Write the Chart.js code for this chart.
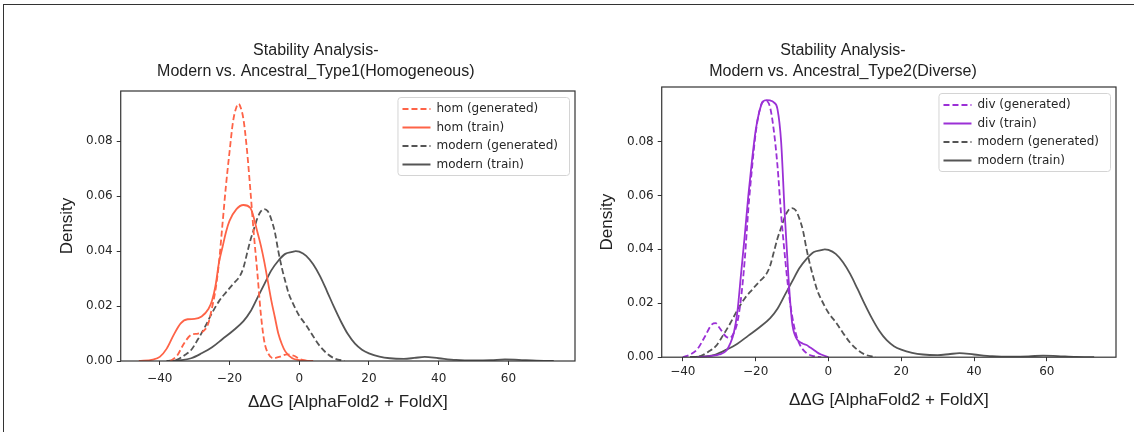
<!DOCTYPE html>
<html>
<head>
<meta charset="utf-8">
<script src="https://cdn.jsdelivr.net/npm/chart.js"></script>
<style>
  html, body { margin: 0; padding: 0; background: #fff; }
  body { width: 1134px; height: 432px; position: relative; overflow: hidden; }
  .frame { position: absolute; left: 3px; top: 4px; width: 1200px; height: 500px;
           border-top: 1.5px solid #333; border-left: 1.5px solid #333; }
  .panel { position: absolute; top: 0; }
</style>
</head>
<body>
<div class="frame"></div>
<canvas id="leftChart" class="panel" width="600" height="432" style="left:0"></canvas>
<canvas id="rightChart" class="panel" width="556" height="432" style="left:570px"></canvas>
<script>
// KDE curves (ΔΔG, density)
const homGenX = [-37, -35, -33, -31, -29, -27, -26, -25, -24, -23, -22, -21, -20, -19, -18, -17.4, -17, -16, -15, -14, -13, -12, -11, -10, -9, -7.5, -5.5, -3.5, -1.5, 0, 2.5];
const homGenY = [0, 0.002, 0.0065, 0.0095, 0.0100, 0.0115, 0.014, 0.0195, 0.026, 0.036, 0.050, 0.064, 0.076, 0.087, 0.0925, 0.0936, 0.093, 0.088, 0.077, 0.062, 0.046, 0.032, 0.017, 0.007, 0.003, 0.001, 0.0016, 0.0024, 0.0019, 0.0008, 0];

const homTrainX = [-46, -42, -40, -38, -36, -34, -32, -30, -28, -26, -25, -24, -23, -22, -21, -20, -18, -16, -14, -12, -11, -10, -9, -8, -7, -6, -5, -4, -2, 0, 4];
const homTrainY = [0, 0.0005, 0.0015, 0.0045, 0.0095, 0.0137, 0.0152, 0.0153, 0.0162, 0.019, 0.022, 0.0275, 0.036, 0.0415, 0.047, 0.051, 0.0553, 0.0568, 0.0557, 0.047, 0.042, 0.036, 0.029, 0.022, 0.016, 0.010, 0.0062, 0.0035, 0.001, 0.0003, 0];

const divGenX = [-40, -38, -36, -34, -32, -31, -30, -28, -27, -26, -25, -24, -23, -22, -21, -20, -19, -18, -17, -16, -15, -14, -13, -12, -11, -10, -9, -8, -6, -4, -2];
const divGenY = [0, 0.001, 0.003, 0.0075, 0.0122, 0.0126, 0.011, 0.0075, 0.0072, 0.009, 0.013, 0.022, 0.036, 0.055, 0.070, 0.083, 0.091, 0.0948, 0.095, 0.0925, 0.084, 0.071, 0.053, 0.038, 0.025, 0.0155, 0.009, 0.005, 0.0015, 0.0004, 0];

const divTrainX = [-36, -32, -30, -28, -27, -26, -25, -24, -23, -22, -21, -20, -19, -18, -17, -16, -15, -14, -13, -12, -11, -10, -9, -8, -7, -6, -5, -4, -3, -2, 0];
const divTrainY = [0, 0.0005, 0.001, 0.0025, 0.005, 0.009, 0.017, 0.031, 0.045, 0.060, 0.073, 0.084, 0.091, 0.0948, 0.0953, 0.0952, 0.0945, 0.092, 0.080, 0.053, 0.030, 0.013, 0.0075, 0.0058, 0.005, 0.0045, 0.0036, 0.0027, 0.0017, 0.001, 0];

const modernGenX = [-38, -35, -33, -31, -29, -27, -25, -23, -21, -19, -17, -16, -15, -14, -13, -12, -11, -10, -9, -8, -7, -6, -5, -4, -3, -2, 0, 2, 4, 6, 8, 10, 13];
const modernGenY = [0, 0.0005, 0.002, 0.004, 0.008, 0.0125, 0.0175, 0.0218, 0.025, 0.028, 0.031, 0.034, 0.039, 0.044, 0.048, 0.052, 0.0545, 0.0553, 0.0545, 0.0515, 0.047, 0.040, 0.034, 0.029, 0.0245, 0.0215, 0.0165, 0.013, 0.009, 0.0053, 0.0027, 0.001, 0];

const modernTrainX = [-38, -34, -31, -28, -25, -22, -19, -16, -14, -12, -10, -8, -6, -4, -2, -1, 0, 2, 4, 6, 8, 10, 12, 14, 16, 18, 20, 23, 26, 30, 33, 36, 40, 45, 50, 55, 59, 63, 68, 73];
const modernTrainY = [0, 0.0003, 0.001, 0.0028, 0.005, 0.008, 0.011, 0.0145, 0.018, 0.023, 0.028, 0.033, 0.0365, 0.039, 0.0397, 0.040, 0.0398, 0.0383, 0.0352, 0.0308, 0.0253, 0.0196, 0.0143, 0.0097, 0.0063, 0.0041, 0.0028, 0.0016, 0.001, 0.0008, 0.0011, 0.0015, 0.001, 0.0004, 0.0002, 0.0003, 0.0006, 0.0004, 0.0001, 0];

const xTicks = [-40, -20, 0, 20, 40, 60];
const yTicks = [0, 0.02, 0.04, 0.06, 0.08];

const RED = '#fe6347';
const PURPLE = '#9b30d6';
const GREY = '#555555';

function pts(xs, ys) {
    return xs.map((x, i) => ({ x: x, y: ys[i] }));
}

function series(label, xs, ys, color, dashed) {
    return {
        label: label,
        data: pts(xs, ys),
        borderColor: color,
        backgroundColor: color,
        borderWidth: 1.8,
        borderDash: dashed ? [6, 3] : [],
        pointRadius: 0,
        cubicInterpolationMode: 'monotone',
        fill: false
    };
}

// matplotlib look: full spine box + framed legend in upper right
const mplBox = {
    id: 'mplBox',
    afterLayout(chart) {
        const lg = chart.legend, area = chart.chartArea;
        if (!lg) return;
        const ctx = chart.ctx;
        ctx.save();
        ctx.font = '12px "DejaVu Sans"';
        const tw = Math.max(...lg.legendItems.map(it => ctx.measureText(it.text).width));
        ctx.restore();
        const fw = tw + 50, fh = 78;
        const fx = area.right - 6 - fw, fy = area.top + 6;
        chart.$frame = { x: fx, y: fy, w: fw, h: fh };
        lg.left = fx - 1.5;
        lg.top = fy - 0.5;
        lg.right = lg.left + lg.width;
        lg.bottom = lg.top + lg.height;
    },
    beforeDraw(chart) {
        const f = chart.$frame;
        if (!f) return;
        const ctx = chart.ctx;
        ctx.save();
        ctx.beginPath();
        ctx.roundRect(f.x + 0.5, f.y + 0.5, f.w, f.h, 3);
        ctx.fillStyle = 'rgba(255,255,255,0.8)';
        ctx.fill();
        ctx.strokeStyle = '#d4d4d4';
        ctx.lineWidth = 1;
        ctx.stroke();
        ctx.restore();
    },
    afterDatasetsDraw(chart) {
        const a = chart.chartArea, ctx = chart.ctx;
        ctx.save();
        ctx.strokeStyle = '#333';
        ctx.lineWidth = 1.2;
        ctx.strokeRect(a.left, a.top, a.right - a.left, a.bottom - a.top);
        ctx.restore();
    }
};

function makeChart(id, title, datasets, o) {
    return new Chart(document.getElementById(id), {
        type: 'line',
        data: { datasets: datasets },
        plugins: [mplBox],
        options: {
            responsive: false,
            animation: false,
            events: [],
            layout: { padding: o.pad },
            plugins: {
                title: {
                    display: true,
                    text: title,
                    color: '#222',
                    font: { family: "'Liberation Sans', Arial", size: 16, weight: 'normal', lineHeight: 1.3125 },
                    padding: o.titlePad
                },
                legend: {
                    position: 'chartArea',
                    align: 'start',
                    labels: {
                        usePointStyle: true,
                        pointStyle: 'line',
                        pointStyleWidth: 28,
                        padding: 6.5,
                        color: '#262626',
                        font: { family: "'DejaVu Sans'", size: 12 },
                        generateLabels: (chart) => chart.data.datasets.map((d, i) => ({
                            text: d.label,
                            datasetIndex: i,
                            strokeStyle: d.borderColor,
                            fillStyle: d.borderColor,
                            lineWidth: d.borderWidth,
                            lineDash: d.borderDash,
                            pointStyle: 'line',
                            fontColor: '#262626',
                            hidden: false
                        }))
                    }
                },
                tooltip: { enabled: false }
            },
            scales: {
                x: {
                    type: 'linear',
                    min: o.xMin,
                    max: o.xMax,
                    afterBuildTicks: (s) => { s.ticks = xTicks.map(v => ({ value: v })); },
                    border: { display: false },
                    grid: { drawOnChartArea: false, drawTicks: true, tickLength: 4, tickColor: '#333', tickWidth: 1 },
                    ticks: {
                        padding: o.xTickPad,
                        color: '#262626',
                        font: { family: "'DejaVu Sans'", size: 12 },
                        maxRotation: 0,
                        callback: (v) => String(v).replace('-', '\u2212')
                    },
                    title: {
                        display: true,
                        text: 'ΔΔG [AlphaFold2 + FoldX]',
                        color: '#222',
                        font: { family: "'Liberation Sans', Arial", size: 17 },
                        padding: o.xTitlePad
                    }
                },
                y: {
                    type: 'linear',
                    min: 0,
                    max: o.yMax,
                    afterBuildTicks: (s) => { s.ticks = yTicks.map(v => ({ value: v })); },
                    border: { display: false },
                    grid: { drawOnChartArea: false, drawTicks: true, tickLength: 4, tickColor: '#333', tickWidth: 1 },
                    ticks: {
                        padding: 4,
                        color: '#262626',
                        font: { family: "'DejaVu Sans'", size: 12 },
                        callback: (v) => Number(v).toFixed(2)
                    },
                    title: {
                        display: true,
                        text: 'Density',
                        color: '#222',
                        font: { family: "'Liberation Sans', Arial", size: 17 },
                        padding: o.yTitlePad
                    }
                }
            }
        }
    });
}

makeChart('leftChart',
    ['Stability Analysis-', 'Modern vs. Ancestral_Type1(Homogeneous)'],
    [
        series('hom (generated)', homGenX, homGenY, RED, true),
        series('hom (train)', homTrainX, homTrainY, RED, false),
        series('modern (generated)', modernGenX, modernGenY, GREY, true),
        series('modern (train)', modernTrainX, modernTrainY, GREY, false)
    ],
    {
        pad: { left: 56.6, right: 25, top: 0, bottom: 15.8 },
        titlePad: { top: 40.5, bottom: 8.5 },
        xMin: -51.2, xMax: 79.1, yMax: 0.0983,
        xTickPad: 7,
        xTitlePad: { top: -1.6, bottom: 4 },
        yTitlePad: { top: 1, bottom: 4 }
    });

makeChart('rightChart',
    ['Stability Analysis-', 'Modern vs. Ancestral_Type2(Diverse)'],
    [
        series('div (generated)', divGenX, divGenY, PURPLE, true),
        series('div (train)', divTrainX, divTrainY, PURPLE, false),
        series('modern (generated)', modernGenX, modernGenY, GREY, true),
        series('modern (train)', modernTrainX, modernTrainY, GREY, false)
    ],
    {
        pad: { left: 0, right: 10, top: 0, bottom: 17.8 },
        titlePad: { top: 40.5, bottom: 4.5 },
        xMin: -45.8, xMax: 79.0, yMax: 0.1002,
        xTickPad: 3.8,
        xTitlePad: { top: 6.6, bottom: 4 },
        yTitlePad: { top: 27.6, bottom: 5 }
    });
</script>
</body>
</html>
